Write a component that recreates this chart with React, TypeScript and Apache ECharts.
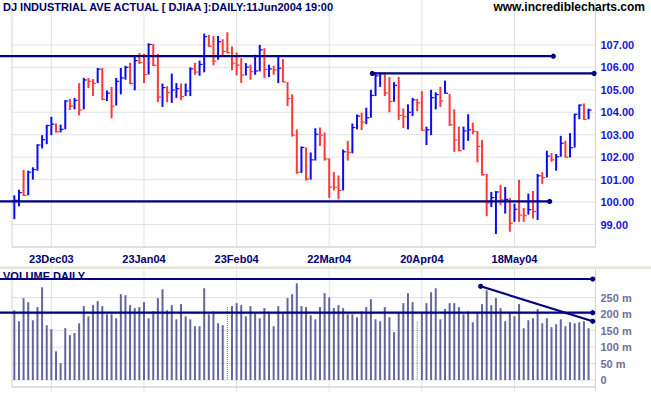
import React, { useEffect, useRef } from "react";
import * as echarts from "echarts";

// ---------- DATA ----------
const MONTHS: [string, string, number[]][] = [
  ["Dec", "03", [11, 12, 15, 16, 17, 18, 19, 22, 23, 24, 26, 29, 30, 31]],
  ["Jan", "04", [2, 5, 6, 7, 8, 9, 12, 13, 14, 15, 16, 20, 21, 22, 23, 26, 27, 28, 29, 30]],
  ["Feb", "04", [2, 3, 4, 5, 6, 9, 10, 11, 12, 13, 17, 18, 19, 20, 23, 24, 25, 26, 27]],
  ["Mar", "04", [1, 2, 3, 4, 5, 8, 9, 10, 11, 12, 15, 16, 17, 18, 19, 22, 23, 24, 25, 26, 29, 30, 31]],
  ["Apr", "04", [1, 2, 5, 6, 7, 8, 12, 13, 14, 15, 16, 19, 20, 21, 22, 23, 26, 27, 28, 29, 30]],
  ["May", "04", [3, 4, 5, 6, 7, 10, 11, 12, 13, 14, 17, 18, 19, 20, 21, 24, 25, 26, 27, 28]],
  ["Jun", "04", [1, 2, 3, 4, 7, 8, 9, 10]],
];
const DATES: string[] = MONTHS.flatMap(([m, y, days]) => days.map((d) => `${d}${m}${y}`));
const DATE_LABELS = ["23Dec03", "23Jan04", "23Feb04", "22Mar04", "20Apr04", "18May04"];

const HIGH = [
  100.30, 100.55, 101.43, 101.40, 101.55, 102.58, 102.98, 103.44, 103.80, 103.50, 103.45, 104.54, 104.60, 104.63,
  105.30, 105.53, 105.53, 105.48, 105.97, 105.97, 104.97, 105.13, 105.53, 105.97, 106.07, 106.20, 106.48, 106.63, 106.60, 107.07, 107.04, 106.60, 105.28, 105.16,
  105.72, 105.30, 105.28, 105.28, 106.00, 106.20, 106.30, 107.50, 107.45, 107.40, 107.40, 107.25, 107.56, 106.93, 106.66, 106.41, 106.19, 106.12, 106.56,
  107.00, 106.85, 106.12, 106.07, 106.51, 106.37, 105.35, 104.80, 103.24, 102.48, 102.43, 102.21, 103.29, 103.32, 103.10, 101.95, 101.33, 101.18, 102.34, 102.73, 103.50, 103.90, 103.98,
  104.20, 105.00, 105.78, 105.78, 105.78, 105.57, 105.34, 105.57, 104.17, 104.35, 104.64, 104.60, 104.94, 103.36, 105.00, 104.89, 105.13, 105.41, 104.82, 104.13, 103.36,
  103.36, 103.91, 103.54, 103.17, 102.76, 101.26, 100.45, 100.49, 100.77, 100.67, 100.18, 99.93, 100.99, 99.74, 100.38, 100.49, 101.25, 101.33, 102.29, 102.18,
  102.14, 102.95, 102.73, 103.07, 103.94, 104.35, 104.39, 104.16,
];
const LOW = [
  99.24, 99.81, 100.27, 100.30, 101.00, 101.40, 102.39, 102.58, 102.98, 103.10, 103.10, 103.24, 104.10, 104.13,
  103.86, 104.13, 105.08, 104.72, 105.30, 104.54, 104.50, 103.73, 104.30, 104.80, 105.45, 105.25, 104.98, 106.15, 105.30, 105.68, 106.05, 104.45, 104.24, 104.45,
  104.42, 104.64, 104.54, 104.72, 104.72, 105.67, 105.63, 105.78, 106.92, 106.09, 106.34, 106.51, 106.63, 105.87, 105.64, 105.31, 105.64, 105.45, 105.67,
  105.82, 105.53, 105.57, 105.67, 105.30, 105.34, 104.28, 102.92, 101.26, 101.30, 100.96, 101.00, 101.85, 102.50, 101.85, 100.18, 100.52, 100.12, 100.52, 101.85, 102.17, 103.24, 103.21,
  103.47, 103.76, 104.72, 105.13, 104.72, 104.00, 104.47, 103.66, 103.29, 103.24, 103.83, 104.05, 103.17, 102.54, 102.98, 104.13, 104.24, 104.83, 103.39, 102.24, 102.26,
  102.33, 102.73, 103.02, 101.77, 101.18, 99.37, 99.78, 98.58, 99.86, 99.49, 98.68, 99.12, 99.12, 99.12, 99.44, 99.27, 99.20, 100.81, 101.10, 101.80,
  101.40, 102.02, 101.98, 101.99, 102.43, 103.69, 103.66, 103.69,
];
const CLOSE = [
  100.08, 100.42, 100.30, 101.33, 101.45, 102.54, 102.78, 103.41, 103.47, 103.13, 103.24, 104.50, 104.27, 104.53,
  104.10, 105.44, 105.38, 105.29, 105.92, 104.58, 104.85, 104.27, 105.38, 105.53, 106.00, 105.28, 106.30, 106.22, 105.68, 107.02, 106.09, 104.68, 105.10, 104.88,
  104.99, 105.05, 104.70, 104.95, 105.93, 105.79, 106.13, 107.37, 106.94, 106.28, 107.14, 106.71, 106.65, 106.19, 106.10, 105.66, 106.01, 105.81, 105.84,
  106.78, 105.91, 105.93, 105.89, 105.96, 105.35, 104.61, 102.98, 101.33, 102.43, 101.03, 101.88, 103.02, 102.98, 101.92, 100.67, 100.66, 100.52, 102.24, 102.21, 103.32, 103.83, 103.56,
  103.76, 104.75, 105.62, 105.72, 104.86, 104.48, 105.20, 103.86, 103.80, 104.00, 104.55, 104.42, 103.20, 103.22, 104.65, 104.79, 104.50, 104.85, 103.44, 102.76, 102.29,
  103.17, 103.22, 103.15, 102.48, 101.22, 99.96, 100.20, 100.45, 100.10, 100.12, 99.06, 99.68, 99.42, 99.40, 99.66, 99.58, 101.17, 101.09, 102.05, 101.88,
  102.02, 102.62, 102.00, 102.42, 103.91, 104.32, 103.68, 104.10,
];
// daily volume, millions
const VOLUME = [
  211, 178, 248, 236, 181, 221, 281, 166, 154, 87, 51, 157, 136, 142, 172, 224, 193, 227, 239, 224,
  199, 199, 187, 260, 257, 227, 218, 221, 236, 187, 208, 248, 275, 211, 227, 184, 230, 193, 184, 163,
  163, 278, 199, 208, 172, 166, 221, 224, 233, 227, 193, 224, 202, 187, 218, 202, 163, 224, 202, 248,
  260, 293, 224, 221, 196, 184, 221, 263,
  250, 218, 227, 218, 199, 199, 190, 208, 221, 245, 184, 178, 221, 190, 145, 205, 233, 263, 236, 175,
  205, 233, 266, 278, 184, 215, 233, 233, 221, 199, 208, 175, 205, 230, 272, 227, 248, 218, 178, 205,
  193, 230, 157, 181, 187, 215, 172, 187, 160, 169, 184, 163, 175, 172, 175, 178, 157,
];
const DOTTED_VOLUME = [46, 87];

const PRICE_TICKS = [99, 100, 101, 102, 103, 104, 105, 106, 107];
const VOLUME_TICKS = [0, 50, 100, 150, 200, 250];

// trend / support lines: start index (null = from the left edge), start value, end index, end value
const PRICE_LINES = [
  { x1: null, v1: 106.5, x2: 116.4, v2: 106.5 },
  { x1: 77.3, v1: 105.73, x2: 125.2, v2: 105.73 },
  { x1: null, v1: 100.03, x2: 115.6, v2: 100.03 },
];
const VOLUME_LINES = [
  { x1: null, v1: 306, x2: 124.9, v2: 306 },
  { x1: null, v1: 204, x2: 124.9, v2: 204 },
  { x1: 100.7, v1: 284, x2: 124.9, v2: 178 },
];

// ---------- STYLE ----------
const FONT = "'Liberation Sans', Arial, sans-serif";
const BLUE = "#0a0af5";
const RED = "#ff3838";
const NAVY = "#000080";
const GRID_COLOR = "#e2e2e2";
const BORDER = "#d4d4d4";
const VOL_COLOR = "#65659d";
const PG = { left: 12, top: 0, width: 583.5, height: 247 };
const VG = { left: 12, top: 264.5, width: 583.5, height: 115.5 };

const DATE_LABEL_INDEX = DATE_LABELS.map((d) => DATES.indexOf(d));

function hLines(xAxisIndex: number, ticks: number[], z: number) {
  return {
    type: "custom",
    xAxisIndex,
    yAxisIndex: xAxisIndex,
    silent: true,
    clip: false,
    z,
    data: ticks.map((v) => [0, v]),
    renderItem: (params: any, api: any) => {
      const cs = params.coordSys;
      const y = api.coord([0, api.value(1)])[1];
      return {
        type: "line",
        shape: { x1: cs.x, y1: y, x2: cs.x + cs.width, y2: y },
        style: { stroke: GRID_COLOR, lineWidth: 1 },
      };
    },
  };
}

function vLines(xAxisIndex: number, extra: number, z: number) {
  return {
    type: "custom",
    xAxisIndex,
    yAxisIndex: xAxisIndex,
    silent: true,
    clip: false,
    z,
    data: DATE_LABEL_INDEX.map((i) => [i, 0]),
    renderItem: (params: any, api: any) => {
      const cs = params.coordSys;
      const x = api.coord([api.value(0), 0])[0];
      return {
        type: "line",
        shape: { x1: x, y1: cs.y, x2: x, y2: cs.y + cs.height + extra },
        style: { stroke: GRID_COLOR, lineWidth: 1 },
      };
    },
  };
}

function annotations(axisIndex: number, lines: any[]) {
  return {
    type: "custom",
    xAxisIndex: axisIndex,
    yAxisIndex: axisIndex,
    silent: true,
    clip: false,
    z: 10,
    data: lines.map((l) => [Math.round(l.x2), l.v2]),
    renderItem: (params: any, api: any) => {
      const l = lines[params.dataIndex];
      const c0 = api.coord([0, l.v1]);
      const c1 = api.coord([1, l.v1]);
      const step = c1[0] - c0[0];
      const px = (idx: number) => c0[0] + idx * step;
      const ax = l.x1 == null ? 0 : px(l.x1);
      const ay = c0[1];
      const bx = px(l.x2);
      const by = api.coord([0, l.v2])[1];
      const children: any[] = [
        { type: "line", shape: { x1: ax, y1: ay, x2: bx, y2: by }, style: { stroke: NAVY, lineWidth: 2.2 } },
        { type: "circle", shape: { cx: bx, cy: by, r: 2.6 }, style: { fill: NAVY } },
      ];
      if (l.x1 != null) children.push({ type: "circle", shape: { cx: ax, cy: ay, r: 2.6 }, style: { fill: NAVY } });
      return { type: "group", children };
    },
  };
}

export default function App() {
  const ref = useRef<HTMLDivElement>(null);
  useEffect(() => {
    document.body.style.margin = "0";
    const chart = echarts.init(ref.current!, undefined, { renderer: "svg", width: 651, height: 395 });
    const cats = [...DATES, ""];
    const priceData = DATES.map((_, i) => [i, HIGH[i], LOW[i], CLOSE[i], i === 0 ? CLOSE[i] - 1 : CLOSE[i - 1]]);
    const volData = VOLUME.map((v, i) => [i, v, DOTTED_VOLUME.includes(i) ? 1 : 0]);

    const axisLabelBase = { fontFamily: FONT, fontWeight: "bold" as const, fontSize: 11 };

    const option: any = {
      animation: false,
      backgroundColor: "#ffffff",
      title: [
        {
          text: "DJ INDUSTRIAL AVE ACTUAL [ DJIAA ]:DAILY:11Jun2004 19:00",
          left: 3,
          top: 1,
          padding: 0,
          z: 4,
          textStyle: { fontFamily: FONT, fontWeight: "bold", fontSize: 11, color: "#000066" },
        },
        {
          text: "www.incrediblecharts.com",
          right: 6,
          top: 1,
          padding: 0,
          z: 4,
          textStyle: { fontFamily: FONT, fontWeight: "bold", fontSize: 12, color: "#000000" },
        },
        {
          text: "VOLUME DAILY",
          left: 3,
          top: 270,
          padding: 0,
          z: 4,
          textStyle: { fontFamily: FONT, fontWeight: "bold", fontSize: 11, color: "#000066" },
        },
      ],
      grid: [
        { ...PG, containLabel: false },
        { ...VG, containLabel: false },
      ],
      xAxis: [
        {
          type: "category",
          gridIndex: 0,
          data: cats,
          boundaryGap: true,
          axisLine: { show: false },
          axisTick: { show: false },
          splitLine: { show: false },
          axisLabel: {
            ...axisLabelBase,
            color: "#000070",
            margin: 6,
            interval: (i: number) => DATE_LABEL_INDEX.includes(i),
          },
        },
        {
          type: "category",
          gridIndex: 1,
          data: cats,
          boundaryGap: true,
          axisLine: { show: false },
          axisTick: { show: false },
          splitLine: { show: false },
          axisLabel: { show: false },
        },
      ],
      yAxis: [
        {
          type: "value",
          gridIndex: 0,
          position: "right",
          min: 98,
          max: 109,
          interval: 1,
          splitLine: { show: false },
          axisLine: { show: false },
          axisTick: { show: false },
          axisLabel: {
            ...axisLabelBase,
            color: "#1515d8",
            margin: 5,
            formatter: (v: number) => (PRICE_TICKS.includes(v) ? v.toFixed(2) : ""),
          },
        },
        {
          type: "value",
          gridIndex: 1,
          position: "right",
          min: 0,
          max: 350,
          interval: 50,
          splitLine: { show: false },
          axisLine: { show: false },
          axisTick: { show: false },
          axisLabel: {
            ...axisLabelBase,
            color: "#6f6f99",
            margin: 5,
            formatter: (v: number) => (v === 0 ? "0" : VOLUME_TICKS.includes(v) ? `${v} m` : ""),
          },
        },
      ],
      graphic: [
        { type: "line", z: 3, silent: true, shape: { x1: PG.left, y1: PG.top, x2: PG.left, y2: PG.top + PG.height }, style: { stroke: BORDER, lineWidth: 1 } },
        { type: "line", z: 3, silent: true, shape: { x1: PG.left + PG.width, y1: PG.top, x2: PG.left + PG.width, y2: PG.top + PG.height }, style: { stroke: BORDER, lineWidth: 1 } },
        { type: "line", z: 3, silent: true, shape: { x1: PG.left, y1: PG.top + PG.height, x2: PG.left + PG.width, y2: PG.top + PG.height }, style: { stroke: BORDER, lineWidth: 1.5 } },
        { type: "rect", z: 3, silent: true, shape: { x: 0, y: 266.5, width: 651, height: 2.5 }, style: { fill: "#e4e4da" } },
        { type: "line", z: 3, silent: true, shape: { x1: VG.left, y1: 269, x2: VG.left, y2: 387 }, style: { stroke: BORDER, lineWidth: 1 } },
        { type: "line", z: 3, silent: true, shape: { x1: VG.left + VG.width, y1: 269, x2: VG.left + VG.width, y2: 391 }, style: { stroke: BORDER, lineWidth: 1 } },
        { type: "line", z: 3, silent: true, shape: { x1: VG.left, y1: 387, x2: VG.left + VG.width, y2: 387 }, style: { stroke: BORDER, lineWidth: 1.5 } },
      ],
      series: [
        hLines(0, PRICE_TICKS, 1),
        vLines(0, 0, 1),
        hLines(1, VOLUME_TICKS, 1),
        vLines(1, 12, 1),
        {
          type: "custom",
          name: "Volume",
          xAxisIndex: 1,
          yAxisIndex: 1,
          silent: true,
          clip: false,
          z: 5,
          data: volData,
          encode: { x: 0, y: 1 },
          renderItem: (_p: any, api: any) => {
            const i = api.value(0);
            const top = api.coord([i, api.value(1)]);
            const base = api.coord([i, 0]);
            const dotted = api.value(2) === 1;
            return {
              type: "line",
              shape: { x1: top[0], y1: top[1], x2: base[0], y2: base[1] },
              style: { stroke: VOL_COLOR, lineWidth: dotted ? 1 : 2, lineDash: dotted ? [1, 1] : null },
            };
          },
        },
        {
          type: "custom",
          name: "DJIAA",
          xAxisIndex: 0,
          yAxisIndex: 0,
          silent: true,
          clip: false,
          z: 6,
          data: priceData,
          encode: { x: 0, y: [1, 2, 3] },
          renderItem: (_p: any, api: any) => {
            const i = api.value(0);
            const hi = api.coord([i, api.value(1)]);
            const lo = api.coord([i, api.value(2)]);
            const cl = api.coord([i, api.value(3)]);
            const color = api.value(3) >= api.value(4) ? BLUE : RED;
            return {
              type: "group",
              children: [
                { type: "line", shape: { x1: hi[0], y1: hi[1], x2: lo[0], y2: lo[1] }, style: { stroke: color, lineWidth: 2 } },
                { type: "line", shape: { x1: cl[0], y1: cl[1], x2: cl[0] + 3, y2: cl[1] }, style: { stroke: color, lineWidth: 1.2 } },
              ],
            };
          },
        },
        annotations(0, PRICE_LINES),
        annotations(1, VOLUME_LINES),
      ],
    };
    chart.setOption(option);
    return () => chart.dispose();
  }, []);
  return <div ref={ref} style={{ width: 651, height: 395 }} />;
}
